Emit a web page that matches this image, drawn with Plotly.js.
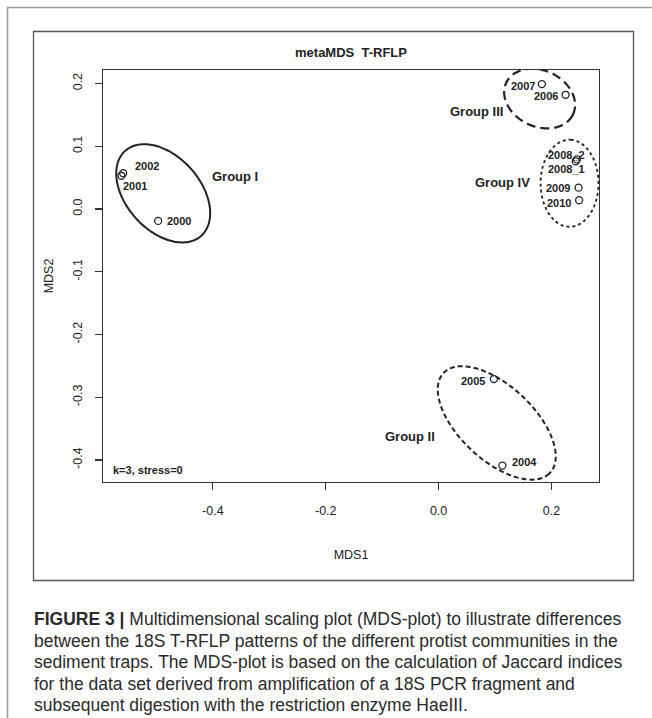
<!DOCTYPE html>
<html><head><meta charset="utf-8">
<script src="https://cdn.plot.ly/plotly-3.0.1.min.js"></script>
<style>body{margin:0;background:#fff}#chart{width:652px;height:718px}</style>
</head><body><div id="chart"></div>
<script>
// ---- data ----
const sampleLabels = ['2000','2001','2002','2004','2005','2006','2007','2008_1','2008_2','2009','2010'];
const mds1 = [-0.497,-0.562,-0.559,0.113,0.098,0.225,0.183,0.243,0.245,0.248,0.249];
const mds2 = [-0.019,0.053,0.057,-0.409,-0.271,0.182,0.199,0.076,0.079,0.034,0.014];

const groupNames = ['Group I','Group II','Group III','Group IV'];
// ellipse centre and conjugate half-axis vectors (data units)
const ellCx = [-0.488,0.103,0.179,0.232];
const ellCy = [0.025,-0.341,0.176,0.041];
const ellUx = [0.0675,0.0945,0.0593,0.0];
const ellUy = [-0.0676,-0.0794,-0.0250,0.0694];
const ellVx = [-0.0487,-0.0447,-0.0209,0.0513];
const ellVy = [-0.0395,-0.0432,-0.0405,0.0];

const xTicks = [-0.4,-0.2,0.0,0.2];
const yTicks = [-0.4,-0.3,-0.2,-0.1,0.0,0.1,0.2];

// ---- presentation ----
const groupLabelPos = {'Group I':[-0.361,0.0515],'Group II':[-0.050,-0.362],'Group III':[0.067,0.155],'Group IV':[0.113,0.042]};
const groupDash = {'Group I':'solid','Group II':'5px,3px','Group III':'9px,5px','Group IV':'dot'};
const groupWidth = {'Group I':2,'Group II':2,'Group III':2.2,'Group IV':1.8};
const labelOffset = { // [xanchor, xshift, yshift]
  '2000':['left',7,0], '2001':['left',0,-10], '2002':['left',10,7],
  '2004':['left',8,4], '2005':['right',-7,-2], '2006':['right',-6,-1],
  '2007':['right',-5,-2], '2008_1':['left',-30,-8], '2008_2':['left',-31,4],
  '2009':['right',-7,0], '2010':['right',-6,-3]
};
const ink = '#222';
const FONT = 'Liberation Sans, Arial, sans-serif';
const W=652,H=718, ML=103, MR=53, MT=70, MB=236;
const PW=W-ML-MR, PH=H-MT-MB;
const px2x = p => (p-ML)/PW;
const py2y = p => (H-MB-p)/PH;

const traces = [];
groupNames.forEach((g,i)=>{
  const xs=[],ys=[];
  for(let k=0;k<=160;k++){
    const t=2*Math.PI*k/160;
    xs.push(ellCx[i]+ellUx[i]*Math.cos(t)+ellVx[i]*Math.sin(t));
    ys.push(ellCy[i]+ellUy[i]*Math.cos(t)+ellVy[i]*Math.sin(t));
  }
  traces.push({x:xs,y:ys,mode:'lines',name:g,hoverinfo:'skip',
    line:{color:ink,width:groupWidth[g],dash:groupDash[g],shape:'spline'}});
});
traces.push({x:mds1,y:mds2,text:sampleLabels,mode:'markers',name:'samples',
  marker:{symbol:'circle-open',size:7,color:ink,line:{width:1.3,color:ink}}});

const annotations = [];
sampleLabels.forEach((s,i)=>{
  const o=labelOffset[s];
  annotations.push({x:mds1[i],y:mds2[i],xref:'x',yref:'y',text:s,showarrow:false,
    xanchor:o[0],yanchor:'middle',xshift:o[1],yshift:o[2],
    font:{family:FONT,size:11,color:ink,weight:'bold'}});
});
groupNames.forEach(g=>{
  annotations.push({x:groupLabelPos[g][0],y:groupLabelPos[g][1],xref:'x',yref:'y',text:g,showarrow:false,
    xanchor:'center',yanchor:'middle',font:{family:FONT,size:13,color:ink,weight:'bold'}});
});
annotations.push({x:px2x(111),y:py2y(470),xref:'paper',yref:'paper',text:'k=3, stress=0',showarrow:false,
  xanchor:'left',yanchor:'middle',font:{family:FONT,size:11,color:ink,weight:'bold'}});

const caption = [
  '<b>FIGURE 3 |</b> Multidimensional scaling plot (MDS-plot) to illustrate differences',
  'between the 18S T-RFLP patterns of the different protist communities in the',
  'sediment traps. The MDS-plot is based on the calculation of Jaccard indices',
  'for the data set derived from amplification of a 18S PCR fragment and',
  'subsequent digestion with the restriction enzyme HaeIII.'
];
caption.forEach((c,i)=>{
  annotations.push({x:px2x(32),y:py2y(619+21.5*i),xref:'paper',yref:'paper',text:c,showarrow:false,
    xanchor:'left',yanchor:'middle',font:{family:FONT,size:17.5,color:'#2a2a2a'}});
});

const shapes = [
  {type:'path',xref:'paper',yref:'paper',
   path:`M ${px2x(7.5)} ${py2y(718)} L ${px2x(7.5)} ${py2y(7.5)} L ${px2x(652)} ${py2y(7.5)}`,
   line:{color:'#9a9a9a',width:1.5}},
  {type:'rect',xref:'paper',yref:'paper',x0:px2x(33.5),x1:px2x(633.5),y0:py2y(580.5),y1:py2y(31.5),
   line:{color:'#555',width:1.3}}
];

const axisCommon = {showgrid:false,zeroline:false,showline:true,mirror:true,linecolor:'#333',linewidth:1.2,
  ticks:'outside',ticklen:7,tickwidth:1.2,tickcolor:'#333',tickmode:'array',
  tickfont:{family:FONT,size:12.5,color:'#222'},automargin:false};

const layout = {
  width:W,height:H,margin:{l:ML,r:MR,t:MT,b:MB,pad:0},
  paper_bgcolor:'#fff',plot_bgcolor:'#fff',showlegend:false,
  title:{text:'metaMDS\u00a0 T-RFLP',x:px2x(351)*PW/W+ML/W,xanchor:'center',y:1-52/H,yanchor:'middle',yref:'container',
    font:{family:FONT,size:13,color:ink,weight:'bold'}},
  xaxis:Object.assign({},axisCommon,{range:[-0.5947,0.2842],tickvals:xTicks,ticktext:xTicks.map(v=>v.toFixed(1)),
    ticklabelstandoff:10,title:{text:'MDS1',standoff:33,font:{family:FONT,size:12.5,color:'#222'}}}),
  yaxis:Object.assign({},axisCommon,{range:[-0.4351,0.2215],tickvals:yTicks,ticktext:yTicks.map(v=>v.toFixed(1)),
    tickangle:-90,ticklabelstandoff:8,title:{text:'MDS2',standoff:14,font:{family:FONT,size:12.5,color:'#222'}}}),
  annotations:annotations,shapes:shapes
};
Plotly.newPlot('chart',traces,layout,{staticPlot:true,displayModeBar:false});
</script></body></html>
